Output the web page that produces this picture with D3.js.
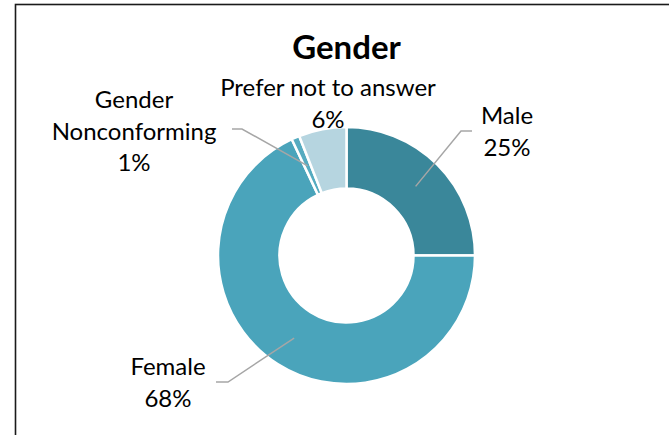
<!DOCTYPE html>
<html>
<head>
<meta charset="utf-8">
<script src="https://cdn.jsdelivr.net/npm/d3@7"></script>
<style>
  html, body { margin: 0; padding: 0; background: #fff; }
  svg { display: block; }
  text { font-family: Lato, "Open Sans", sans-serif; fill: #000; }
</style>
</head>
<body>
<svg id="chart" width="669" height="435"></svg>
<script>
// Gender breakdown (percent of respondents)
const categories = ["Male", "Female", "Gender Nonconforming", "Prefer not to answer"];
const values = [25, 68, 1, 6];
const labelLines = [["Male"], ["Female"], ["Gender", "Nonconforming"], ["Prefer not to answer"]];
const colors = ["#3A879A", "#4AA4BB", "#55ABC0", "#B6D5E0"];

const W = 669, H = 435;
const cx = 346.5, cy = 255.5;
const outerR = 128.5, innerR = 67;
const midR = (outerR + innerR) / 2;

const svg = d3.select("#chart");

// chart frame (runs off the right and bottom edges)
svg.append("rect")
  .attr("x", 15.5).attr("y", 4.5)
  .attr("width", 800).attr("height", 600)
  .attr("fill", "none")
  .attr("stroke", "#1a1a1a")
  .attr("stroke-width", 1.6);

svg.append("text")
  .attr("x", cx).attr("y", 59)
  .attr("text-anchor", "middle")
  .style("font-weight", "bold")
  .style("font-size", "33px")
  .text("Gender");

const data = categories.map((c, i) => ({ name: c, value: values[i], lines: labelLines[i], color: colors[i] }));

const pie = d3.pie().value(d => d.value).sort(null);
const arcs = pie(data);
const arc = d3.arc().innerRadius(innerR).outerRadius(outerR);
const midArc = d3.arc().innerRadius(midR).outerRadius(midR);

const g = svg.append("g").attr("transform", `translate(${cx},${cy})`);

g.selectAll("path.slice")
  .data(arcs)
  .join("path")
  .attr("class", "slice")
  .attr("d", arc)
  .attr("fill", d => d.data.color)
  .attr("stroke", "#fff")
  .attr("stroke-width", 2.5)
  .attr("stroke-linejoin", "round");

// label placement: text anchor point and optional leader elbow (page coords)
const labelPos = {
  "Male":                 { x: 507, y: 124, elbow: [[472, 131], [461, 131]] },
  "Female":               { x: 168, y: 375, elbow: [[216, 382], [228, 382]] },
  "Gender Nonconforming": { x: 134, y: 108, elbow: [[232, 129], [242, 129]] },
  "Prefer not to answer": { x: 328, y: 96,  elbow: null }
};

const lineH = 31.5;

arcs.forEach(a => {
  const p = labelPos[a.data.name];
  if (p.elbow) {
    const c = midArc.centroid(a);
    const pts = [p.elbow[0], p.elbow[1], [c[0] + cx, c[1] + cy]];
    svg.append("path")
      .attr("d", d3.line()(pts))
      .attr("fill", "none")
      .attr("stroke", "#A6A6A6")
      .attr("stroke-width", 1.5);
  }
  const t = svg.append("text")
    .attr("text-anchor", "middle")
    .style("font-size", "24px");
  const lines = a.data.lines.concat([d3.format(".0f")(a.data.value) + "%"]);
  lines.forEach((ln, i) => {
    t.append("tspan")
      .attr("x", p.x)
      .attr("y", p.y + i * lineH)
      .text(ln);
  });
});
</script>
</body>
</html>
